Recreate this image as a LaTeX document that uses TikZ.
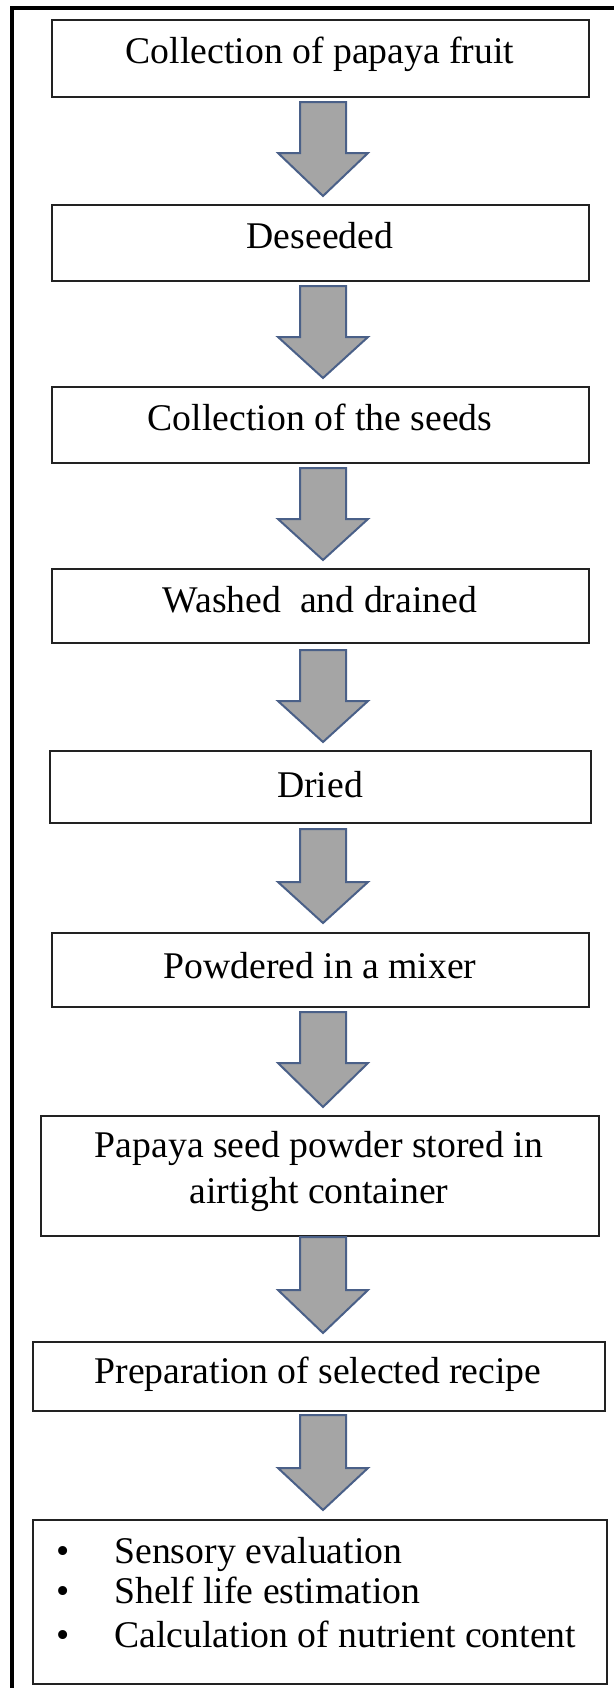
\documentclass[tikz,border=0pt]{standalone}
\usepackage{fontspec}
\setmainfont{Liberation Serif}
\definecolor{arrowfill}{HTML}{A5A5A5}
\definecolor{arrowline}{HTML}{4A6088}
\definecolor{boxline}{HTML}{222222}
\newcommand{\blockarr}[3]{\draw[barrow] (300,#1) -- (346,#1) -- (346,#2) -- (368,#2) -- (323,#3) -- (278,#2) -- (300,#2) -- cycle;}
\begin{document}
\begin{tikzpicture}[x=0.5pt,y=-0.5pt,
  box/.style={draw=boxline, line width=1pt, inner sep=0pt, fill=white},
  txt/.style={anchor=base, inner sep=0pt, font=\fontsize{18.85}{22}\selectfont, text=black},
  dot/.style={anchor=center, inner sep=0pt, font=\fontsize{18.85}{22}\selectfont, text=black},
  barrow/.style={draw=arrowline, fill=arrowfill, line width=1pt, line join=miter}]
\useasboundingbox (0,0) rectangle (614,1688);
\clip (0,0) rectangle (614,1688);
\fill[white] (0,0) rectangle (614,1688);
% outer frame (right and bottom sides fall outside the picture)
\draw[line width=2pt, black] (12,1720) -- (12,8) -- (640,8);
% boxes
\node[box, minimum width=268.5pt, minimum height=38.5pt] (b1) at (320.5,58.5) {};
\node[box, minimum width=268.5pt, minimum height=38pt] (b2) at (320.5,243) {};
\node[box, minimum width=268.5pt, minimum height=38pt] (b3) at (320.5,425) {};
\node[box, minimum width=268.5pt, minimum height=37pt] (b4) at (320.5,606) {};
\node[box, minimum width=270.5pt, minimum height=36pt] (b5) at (320.5,787) {};
\node[box, minimum width=268.5pt, minimum height=37pt] (b6) at (320.5,970) {};
\node[box, minimum width=279pt, minimum height=60pt] (b7) at (320,1176) {};
\node[box, minimum width=286pt, minimum height=34.5pt] (b8) at (319,1376.5) {};
\node[box, minimum width=287pt, minimum height=82pt] (b9) at (320,1602) {};
% texts
\node[txt] (t1) at (320,63) {Collection of papaya fruit};
\node[txt] (t2) at (320,248) {Deseeded};
\node[txt] (t3) at (320,430) {Collection of the seeds};
\node[txt] (t4) at (320,612) {Washed\hspace{0.25em} and drained};
\node[txt] (t5) at (320,797) {Dried};
\node[txt] (t6) at (320,978) {Powdered in a mixer};
\node[txt] (t7a) at (319,1157) {Papaya seed powder stored in};
\node[txt] (t7b) at (319,1203) {airtight container};
\node[txt] (t8) at (318,1383) {Preparation of selected recipe};
\node[dot] (d1) at (63,1555) {\textbullet};
\node[dot] (d2) at (63,1595) {\textbullet};
\node[dot] (d3) at (63,1639) {\textbullet};
\node[txt, anchor=base west] (l1) at (114,1563) {Sensory evaluation};
\node[txt, anchor=base west] (l2) at (114,1603) {Shelf life estimation};
\node[txt, anchor=base west] (l3) at (114,1647) {Calculation of nutrient content};
% block arrows
\blockarr{102}{153}{196}
\blockarr{286}{337}{378}
\blockarr{468}{519}{560}
\blockarr{650}{701}{742}
\blockarr{829}{882}{923}
\blockarr{1012}{1063}{1107}
\blockarr{1237}{1290}{1333}
\blockarr{1415}{1468}{1510}
\end{tikzpicture}
\end{document}
